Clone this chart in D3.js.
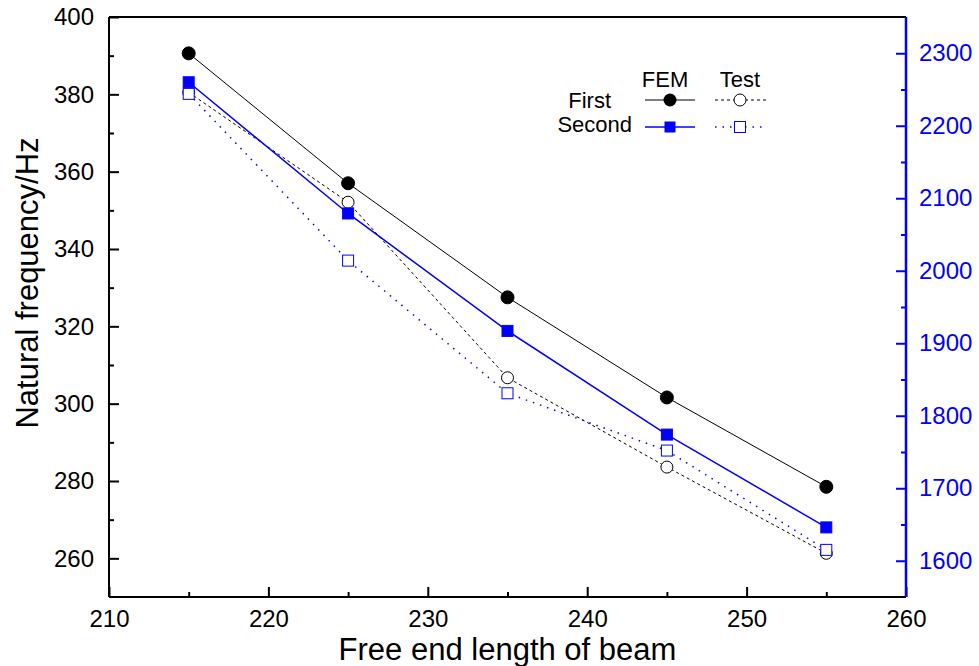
<!DOCTYPE html>
<html><head><meta charset="utf-8">
<script src="https://cdn.jsdelivr.net/npm/d3@7"></script>
<style>body{margin:0;background:#fff}text{font-family:"Liberation Sans",Arial,sans-serif}</style>
</head><body><svg id="c" width="979" height="666"></svg>
<script>
const lengths = [215, 225, 235, 245, 255];
const firstFEM = [390.6, 357.0, 327.5, 301.6, 278.5];
const firstTest = [380.5, 352.1, 306.7, 283.6, 261.3];
const secondFEM = [2260, 2079, 1917, 1774, 1646];
const secondTest = [2244, 2014, 1831, 1752, 1615];
const xTicks = [210, 220, 230, 240, 250, 260];
const yLeftTicks = [260, 280, 300, 320, 340, 360, 380, 400];
const yRightTicks = [1600, 1700, 1800, 1900, 2000, 2100, 2200, 2300];

const L = 109, R = 906, T = 17, B = 597;
const svg = d3.select("#c");
const x = d3.scaleLinear().domain([210, 260]).range([L, R]);
const yL = d3.scaleLinear().domain([250, 400]).range([B, T]);
const yR = d3.scaleLinear().domain([1550, 2350]).range([B, T]);
const blue = "#0000ff";
const FF = "'Liberation Sans', Arial, sans-serif";

// line series
const mk = (ys, sc) => d3.line().x((d, i) => x(lengths[i])).y(d => sc(d))(ys);
svg.append("path").attr("d", mk(firstTest, yL)).attr("fill", "none").attr("stroke", "#000").attr("stroke-width", 1).attr("stroke-dasharray", "3,3");
svg.append("path").attr("d", mk(secondTest, yR)).attr("fill", "none").attr("stroke", blue).attr("stroke-width", 1.5).attr("stroke-dasharray", "1.5,6");
svg.append("path").attr("d", mk(firstFEM, yL)).attr("fill", "none").attr("stroke", "#000").attr("stroke-width", 1);
svg.append("path").attr("d", mk(secondFEM, yR)).attr("fill", "none").attr("stroke", blue).attr("stroke-width", 1.5);

// markers
function circles(ys, sc, filled) {
  svg.append("g").selectAll("circle").data(ys).join("circle")
    .attr("cx", (d, i) => x(lengths[i])).attr("cy", d => sc(d)).attr("r", filled ? 6.5 : 6)
    .attr("fill", filled ? "#000" : "#fff").attr("stroke", "#000").attr("stroke-width", 1);
}
function squares(ys, sc, filled) {
  svg.append("g").selectAll("rect").data(ys).join("rect")
    .attr("x", (d, i) => x(lengths[i]) - 5.5).attr("y", d => sc(d) - 5.5).attr("width", 11).attr("height", 11)
    .attr("fill", filled ? blue : "#fff").attr("stroke", blue).attr("stroke-width", 1);
}
circles(firstTest, yL, false);
squares(secondTest, yR, false);
circles(firstFEM, yL, true);
squares(secondFEM, yR, true);

// axes
function styleAxis(g, color) {
  g.select(".domain").remove();
  g.selectAll(".tick line").attr("stroke", color).attr("stroke-width", 2);
  g.selectAll(".tick text").style("font-size", "24px").style("font-family", FF).attr("fill", color);
}
svg.append("g").attr("transform", `translate(0,${B})`)
  .call(d3.axisBottom(x).tickValues(xTicks).tickSize(-10).tickPadding(13).tickFormat(d3.format("d"))).call(styleAxis, "#000");
svg.append("g").attr("transform", `translate(0,${B})`)
  .call(d3.axisBottom(x).tickValues([215, 225, 235, 245, 255]).tickSize(-5).tickFormat("")).call(styleAxis, "#000");
svg.append("g").attr("transform", `translate(${L},0)`)
  .call(d3.axisLeft(yL).tickValues(yLeftTicks).tickSize(-10).tickPadding(15).tickFormat(d3.format("d"))).call(styleAxis, "#000");
svg.append("g").attr("transform", `translate(${L},0)`)
  .call(d3.axisLeft(yL).tickValues([270, 290, 310, 330, 350, 370, 390]).tickSize(-5).tickFormat("")).call(styleAxis, "#000");
svg.append("g").attr("transform", `translate(${R},0)`)
  .call(d3.axisRight(yR).tickValues(yRightTicks).tickSize(-10).tickPadding(13).tickFormat(d3.format("d"))).call(styleAxis, blue);
svg.append("g").attr("transform", `translate(${R},0)`)
  .call(d3.axisRight(yR).tickValues([1650, 1750, 1850, 1950, 2050, 2150, 2250]).tickSize(-5).tickFormat("")).call(styleAxis, blue);

// frame
svg.append("line").attr("x1", L).attr("x2", R).attr("y1", T).attr("y2", T).attr("stroke", "#000").attr("stroke-width", 2);
svg.append("line").attr("x1", L).attr("x2", R).attr("y1", B).attr("y2", B).attr("stroke", "#000").attr("stroke-width", 2);
svg.append("line").attr("x1", L).attr("x2", L).attr("y1", T).attr("y2", B).attr("stroke", "#000").attr("stroke-width", 2);
svg.append("line").attr("x1", R).attr("x2", R).attr("y1", T).attr("y2", B).attr("stroke", blue).attr("stroke-width", 2.5);

// titles
svg.append("text").attr("x", (L + R) / 2 + 0).attr("y", 660).attr("text-anchor", "middle").style("font-size", "31px").style("font-family", FF).text("Free end length of beam");
svg.append("text").attr("transform", `translate(38,${(T + B) / 2 - 24}) rotate(-90)`).attr("text-anchor", "middle").style("font-size", "31px").style("font-family", FF).text("Natural frequency/Hz");

// legend
const lg = svg.append("g").style("font-size", "22px").style("font-family", FF);
lg.append("text").attr("x", 665).attr("y", 87).attr("text-anchor", "middle").text("FEM");
lg.append("text").attr("x", 740).attr("y", 87).attr("text-anchor", "middle").text("Test");
lg.append("text").attr("x", 611).attr("y", 108).attr("text-anchor", "end").text("First");
lg.append("text").attr("x", 632).attr("y", 132).attr("text-anchor", "end").text("Second");
const r1 = 100, r2 = 127;
lg.append("line").attr("x1", 645).attr("x2", 695).attr("y1", r1).attr("y2", r1).attr("stroke", "#000");
lg.append("circle").attr("cx", 670).attr("cy", r1).attr("r", 6.5).attr("fill", "#000");
lg.append("line").attr("x1", 715).attr("x2", 766).attr("y1", r1).attr("y2", r1).attr("stroke", "#000").attr("stroke-dasharray", "3,3");
lg.append("circle").attr("cx", 740).attr("cy", r1).attr("r", 6).attr("fill", "#fff").attr("stroke", "#000");
lg.append("line").attr("x1", 645).attr("x2", 695).attr("y1", r2).attr("y2", r2).attr("stroke", blue).attr("stroke-width", 1.5);
lg.append("rect").attr("x", 664.5).attr("y", r2 - 5.5).attr("width", 11).attr("height", 11).attr("fill", blue);
lg.append("line").attr("x1", 715).attr("x2", 766).attr("y1", r2).attr("y2", r2).attr("stroke", blue).attr("stroke-width", 1.5).attr("stroke-dasharray", "1.5,6");
lg.append("rect").attr("x", 734.5).attr("y", r2 - 5.5).attr("width", 11).attr("height", 11).attr("fill", "#fff").attr("stroke", blue);
</script></body></html>
